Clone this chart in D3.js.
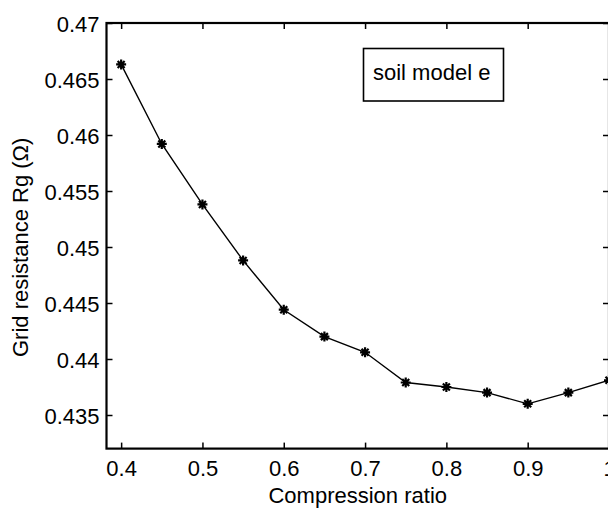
<!DOCTYPE html>
<html>
<head>
<meta charset="utf-8">
<style>
  body { margin: 0; background: #fff; }
  svg text { font-family: "Liberation Sans", Arial, Helvetica, sans-serif; fill: #000; }
  .line { fill: none; stroke: #000; stroke-width: 1.4px; }
  .marker { fill: none; stroke: #000; stroke-width: 2.2px; }
</style>
</head>
<body>
<script src="https://cdn.jsdelivr.net/npm/d3@7"></script>
<script>
// compression ratio vs grid resistance
var ratios = [0.4, 0.45, 0.5, 0.55, 0.6, 0.65, 0.7, 0.75, 0.8, 0.85, 0.9, 0.95, 1.0];
var resistance = [0.4663, 0.4592, 0.4538, 0.4488, 0.4444, 0.4420, 0.4406, 0.4379, 0.4375, 0.4370, 0.4360, 0.4370, 0.4381];
var xTicks = [0.4, 0.5, 0.6, 0.7, 0.8, 0.9, 1];
var yTicks = [0.435, 0.44, 0.445, 0.45, 0.455, 0.46, 0.465, 0.47];
var legendLabel = "soil model e";

var width = 608, height = 508;

var x = d3.scaleLinear().domain([0.382, 1.0]).range([106.5, 609]);
var y = d3.scaleLinear().domain([0.432, 0.47]).range([448.6, 23]);

var svg = d3.select("body").append("svg")
    .attr("width", width)
    .attr("height", height);

// axes, ticks pointing inward like matlab
var xAxis = svg.append("g")
    .attr("transform", "translate(0," + y.range()[0] + ")")
    .call(d3.axisBottom(x).tickValues(xTicks).tickSizeInner(-6).tickSizeOuter(0).tickPadding(12)
        .tickFormat(function (d) { return String(d); }));
var xTop = svg.append("g")
    .attr("transform", "translate(0," + y.range()[1] + ")")
    .call(d3.axisTop(x).tickValues(xTicks).tickSizeInner(-6).tickSizeOuter(0).tickFormat(""));
var yAxis = svg.append("g")
    .attr("transform", "translate(" + x.range()[0] + ",0)")
    .call(d3.axisLeft(y).tickValues(yTicks).tickSizeInner(-6).tickSizeOuter(0).tickPadding(7)
        .tickFormat(function (d) { return String(d); }));
var yRight = svg.append("g")
    .attr("transform", "translate(" + x.range()[1] + ",0)")
    .call(d3.axisRight(y).tickValues(yTicks).tickSizeInner(-6).tickSizeOuter(0).tickFormat(""));

svg.selectAll(".domain").remove();
svg.selectAll(".tick line").attr("stroke", "#000").attr("stroke-width", 1.5);
svg.selectAll(".tick text")
    .style("font-size", "22px")
    .style("font-family", "'Liberation Sans', Arial, sans-serif")
    .attr("fill", "#000");
yAxis.selectAll(".tick text").attr("dy", "0.38em");

// frame
svg.append("rect")
    .attr("x", x.range()[0])
    .attr("y", y.range()[1])
    .attr("width", x.range()[1] - x.range()[0])
    .attr("height", y.range()[0] - y.range()[1])
    .attr("fill", "none")
    .attr("stroke", "#000")
    .attr("stroke-width", 2.2);

var pts = ratios.map(function (r, i) { return { r: r, v: resistance[i] }; });

var line = d3.line()
    .x(function (d) { return x(d.r); })
    .y(function (d) { return y(d.v); });

svg.append("path")
    .datum(pts)
    .attr("class", "line")
    .attr("d", line);

// asterisk markers (plus + cross)
var s = 5, t = 3.5;
var star = "M" + (-s) + ",0L" + s + ",0M0," + (-s) + "L0," + s +
    "M" + (-t) + "," + (-t) + "L" + t + "," + t + "M" + (-t) + "," + t + "L" + t + "," + (-t);
svg.selectAll(".marker")
    .data(pts)
    .enter().append("path")
    .attr("class", "marker")
    .attr("transform", function (d) { return "translate(" + x(d.r) + "," + y(d.v) + ")"; })
    .attr("d", star);

// legend box
svg.append("rect")
    .attr("x", 363.5)
    .attr("y", 48.5)
    .attr("width", 140)
    .attr("height", 52.5)
    .attr("fill", "#fff")
    .attr("stroke", "#000")
    .attr("stroke-width", 1.6);
svg.append("text")
    .attr("x", 373)
    .attr("y", 80)
    .style("font-size", "22px")
    .text(legendLabel);

// axis labels
svg.append("text")
    .attr("x", (x.range()[0] + x.range()[1]) / 2)
    .attr("y", 503)
    .attr("text-anchor", "middle")
    .style("font-size", "22px")
    .text("Compression ratio");

svg.append("text")
    .attr("transform", "translate(28,357) rotate(-90)")
    .attr("text-anchor", "start")
    .style("font-size", "22px")
    .text("Grid resistance Rg (Ω)");
</script>
</body>
</html>
